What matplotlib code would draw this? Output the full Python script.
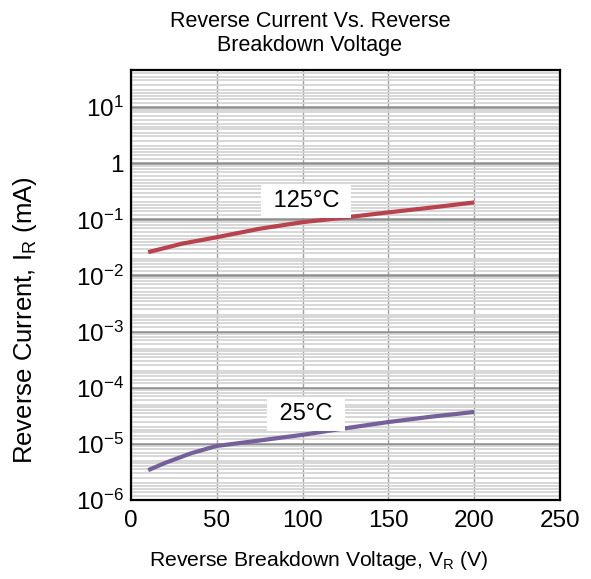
import numpy as np
import matplotlib
matplotlib.use("Agg")
import matplotlib.pyplot as plt
from matplotlib.ticker import FixedLocator, FuncFormatter, NullFormatter

# data
v_125 = [10, 30, 50, 75, 100, 125, 150, 175, 200]
i_125 = [0.026, 0.037, 0.048, 0.068, 0.089, 0.108, 0.133, 0.162, 0.2]
v_25 = [10, 20, 35, 50, 75, 100, 125, 150, 175, 200]
i_25 = [3.4e-6, 4.6e-6, 6.8e-6, 9.2e-6, 1.15e-5, 1.45e-5, 1.9e-5, 2.45e-5, 3.05e-5, 3.7e-5]
x_ticks = [0, 50, 100, 150, 200, 250]
y_decades = [1e-6, 1e-5, 1e-4, 1e-3, 1e-2, 1e-1, 1, 10]

plt.rcParams['font.family'] = ['Liberation Sans', 'DejaVu Sans']
plt.rcParams['mathtext.fontset'] = 'custom'
plt.rcParams['mathtext.rm'] = 'Liberation Sans'
plt.rcParams['mathtext.it'] = 'Liberation Sans'

fig = plt.figure(figsize=(5.91, 5.79), dpi=100)
ax = fig.add_axes([0.2217, 0.1364, 0.7259, 0.7427])

ax.set_yscale('log')
ax.set_xlim(0, 250)
ax.set_ylim(1e-6, 10 ** 1.66)

# grid
subs = [1.2, 1.4, 1.6, 1.8, 2, 2.5, 3, 3.5, 4, 4.5, 5, 6, 7, 8, 9]
minor = [d * s for d in y_decades + [100] for s in subs]
ax.yaxis.set_minor_locator(FixedLocator(minor))
ax.yaxis.set_minor_formatter(NullFormatter())
ax.yaxis.set_major_locator(FixedLocator(y_decades))
ax.set_xticks(x_ticks)
ax.grid(True, which='minor', axis='y', color='#d4d4d4', lw=1.3)
ax.grid(True, which='major', axis='y', color='#8f8f8f', lw=1.8)
ax.grid(True, which='major', axis='x', color='#a0a0a0', lw=1.0)
ax.set_axisbelow(True)

def fmt(y, pos):
	e = int(round(np.log10(y)))
	if e == 0:
		return "1"
	return r"$\mathregular{10^{%d}}$" % e

ax.yaxis.set_major_formatter(FuncFormatter(fmt))
ax.tick_params(which='both', length=0, labelsize=17.5)
ax.tick_params(axis='y', pad=5)
ax.tick_params(axis='x', pad=7)

for s in ax.spines.values():
	s.set_linewidth(1.6)
	s.set_color('black')

ax.plot(v_125, i_125, color='#b8424d', lw=3.0, solid_capstyle='butt')
ax.plot(v_25, i_25, color='#76609a', lw=3.0, solid_capstyle='butt')

box = dict(facecolor='white', edgecolor='none', boxstyle='square,pad=0.25')
ax.text(102, 0.21, " 125°C ", fontsize=17, ha='center', va='center', bbox=box)
ax.text(102, 3.4e-5, " 25°C ", fontsize=17, ha='center', va='center', bbox=box)

ax.set_title("Reverse Current Vs. Reverse\nBreakdown Voltage", fontsize=15.5, pad=14,
	linespacing=1.15, x=0.417)
ax.set_xlabel(r"Reverse Breakdown Voltage, V$_\mathregular{R}$ (V)", fontsize=15.2)
ax.xaxis.set_label_coords(0.438, -0.115)
ax.set_ylabel(r"Reverse Current, I$_\mathregular{R}$ (mA)", fontsize=18.5)
ax.yaxis.set_label_coords(-0.215, 0.419)

plt.savefig("out.png", dpi=100)
plt.close()
